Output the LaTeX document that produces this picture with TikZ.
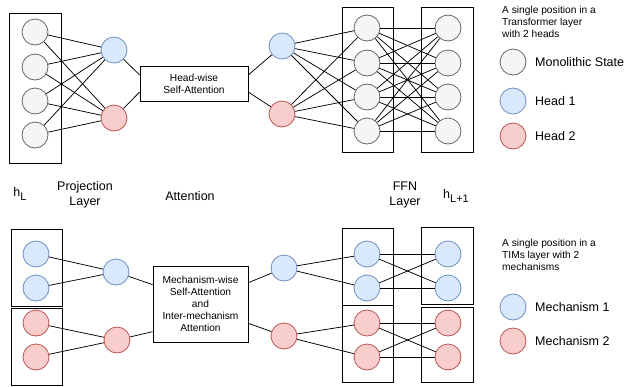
\documentclass[tikz,border=0pt]{standalone}
\usepackage{fontspec}
\setmainfont{Liberation Sans}
\usepackage{tikz}
\usetikzlibrary{positioning}
\definecolor{monofill}{HTML}{F5F5F5}
\definecolor{monoline}{HTML}{666666}
\definecolor{mechAfill}{HTML}{DAE8FC}
\definecolor{mechAline}{HTML}{6C8EBF}
\definecolor{mechBfill}{HTML}{F8CECC}
\definecolor{mechBline}{HTML}{B85450}
\newcommand{\layersub}[1]{\raisebox{-4pt}{\fontsize{11}{13}\selectfont #1}}
\tikzset{
  unit/.style={circle, minimum size=26pt, inner sep=0pt, line width=0.8pt},
  mono/.style={unit, draw=monoline, fill=monofill},
  mechA/.style={unit, draw=mechAline, fill=mechAfill},
  mechB/.style={unit, draw=mechBline, fill=mechBfill},
  colbox/.style={draw, line width=0.8pt, inner sep=0pt, minimum width=52pt},
  opbox/.style={draw, line width=0.8pt, align=center, inner sep=0pt, font=\fontsize{10.2}{12}\selectfont},
  caption/.style={align=center, font=\fontsize{12.5}{14.5}\selectfont},
  note/.style={align=left, anchor=north west, inner sep=0pt, font=\fontsize{10.2}{12}\selectfont},
  legtext/.style={anchor=west, inner sep=0pt, font=\fontsize{12.5}{15}\selectfont},
  wire/.style={line width=0.75pt}
}

\begin{document}
\begin{tikzpicture}[x=1pt, y=-1pt]
			\useasboundingbox (0,0) rectangle (629,386);
			% Transformer layer
			\node at (35,88) (tinbox) [colbox, minimum height=150pt] {};
			\node at (35,32) (tin1) [mono] {};
			\node at (35,67) (tin2) [mono] {};
			\node at (35,101) (tin3) [mono] {};
			\node at (35,135) (tin4) [mono] {};
			\node at (114,50) (tprojA) [mechA] {};
			\node at (114,118) (tprojB) [mechB] {};
			\node at (194,83.5) (tattn) [opbox, minimum width=108pt, minimum height=35pt] {Head-wise\\Self-Attention};
			\node at (282,46) (tpostA) [mechA] {};
			\node at (282,114) (tpostB) [mechB] {};
			\node at (367.5,79.5) (tffnbox) [colbox, minimum width=51pt, minimum height=145pt] {};
			\node at (447,79.5) (toutbox) [colbox, minimum height=145pt] {};
			\node at (367,28) (tffn1) [mono] {};
			\node at (367,63) (tffn2) [mono] {};
			\node at (367,97) (tffn3) [mono] {};
			\node at (367,131) (tffn4) [mono] {};
			\node at (448,28) (tout1) [mono] {};
			\node at (448,63) (tout2) [mono] {};
			\node at (448,97) (tout3) [mono] {};
			\node at (448,131) (tout4) [mono] {};
			\foreach \i in {1,...,4} {
			  \draw [wire] (tin\i) -- (tprojA); \draw [wire] (tin\i) -- (tprojB);
			  \draw [wire] (tpostA) -- (tffn\i); \draw [wire] (tpostB) -- (tffn\i);
			  \foreach \j in {1,...,4} \draw [wire] (tffn\i) -- (tout\j);
			}
			\draw [wire] (tprojA) -- (tattn.171); \draw [wire] (tprojB) -- (tattn.189);
			\draw [wire] (tattn.9) -- (tpostA); \draw [wire] (tattn.351) -- (tpostB);
			% legend, top
			\node at (502,6) (tnote) [note] {A single position in a\\Transformer layer\\with 2 heads};
			\node at (513,62) (tkey1) [mono] {};
			\node at (513,101) (tkey2) [mechA] {};
			\node at (513,136) (tkey3) [mechB] {};
			\node at (535,62) (tkeytext1) [legtext] {Monolithic State};
			\node at (535,101) (tkeytext2) [legtext] {Head 1};
			\node at (535,136) (tkeytext3) [legtext] {Head 2};
			% column captions
			\node at (20,194) (caphin) [caption] {h\layersub{L}};
			\node at (85,195) (capproj) [caption] {Projection\\Layer};
			\node at (190,196) (capattn) [caption] {Attention};
			\node at (405,195) (capffn) [caption] {FFN\\Layer};
			\node at (456,196) (caphout) [caption] {h\layersub{L+1}};
			% TIMs layer
			\node at (36.5,267.5) (binboxA) [colbox, minimum width=51pt, minimum height=77pt] {};
			\node at (36.5,346.5) (binboxB) [colbox, minimum width=51pt, minimum height=77pt] {};
			\node at (36,254) (bin1) [mechA] {};
			\node at (36,288) (bin2) [mechA] {};
			\node at (36,323) (bin3) [mechB] {};
			\node at (36,357) (bin4) [mechB] {};
			\node at (116,272) (bprojA) [mechA] {};
			\node at (117,340) (bprojB) [mechB] {};
			\node at (200.5,304) (battn) [opbox, minimum width=95pt, minimum height=76pt] {Mechanism-wise\\Self-Attention\\and\\Inter-mechanism\\Attention};
			\node at (284,268) (bpostA) [mechA] {};
			\node at (284,336) (bpostB) [mechB] {};
			\node at (367.5,266.5) (bffnboxA) [colbox, minimum width=51pt, minimum height=77pt] {};
			\node at (367.5,343.5) (bffnboxB) [colbox, minimum width=51pt, minimum height=77pt] {};
			\node at (447,265.5) (boutboxA) [colbox, minimum height=77pt] {};
			\node at (447,344.5) (boutboxB) [colbox, minimum height=75pt] {};
			\node at (367,254) (bffn1) [mechA] {};
			\node at (367,288) (bffn2) [mechA] {};
			\node at (367,323) (bffn3) [mechB] {};
			\node at (367,357) (bffn4) [mechB] {};
			\node at (448,254) (bout1) [mechA] {};
			\node at (448,288) (bout2) [mechA] {};
			\node at (448,323) (bout3) [mechB] {};
			\node at (448,357) (bout4) [mechB] {};
			\foreach \i in {1,2} {
			  \draw [wire] (bin\i) -- (bprojA); \draw [wire] (bpostA) -- (bffn\i);
			  \foreach \j in {1,2} \draw [wire] (bffn\i) -- (bout\j);
			}
			\foreach \i in {3,4} {
			  \draw [wire] (bin\i) -- (bprojB); \draw [wire] (bpostB) -- (bffn\i);
			  \foreach \j in {3,4} \draw [wire] (bffn\i) -- (bout\j);
			}
			\draw [wire] (bprojA) -- (battn.158); \draw [wire] (bprojB) -- (battn.210);
			\draw [wire] (battn.24) -- (bpostA); \draw [wire] (battn.338) -- (bpostB);
			% legend, bottom
			\node at (502,239) (bnote) [note] {A single position in a\\TIMs layer with 2\\mechanisms};
			\node at (513,307) (bkey1) [mechA] {};
			\node at (513,341) (bkey2) [mechB] {};
			\node at (535,307) (bkeytext1) [legtext] {Mechanism 1};
			\node at (535,341) (bkeytext2) [legtext] {Mechanism 2};
			\end{tikzpicture}
\end{document}
